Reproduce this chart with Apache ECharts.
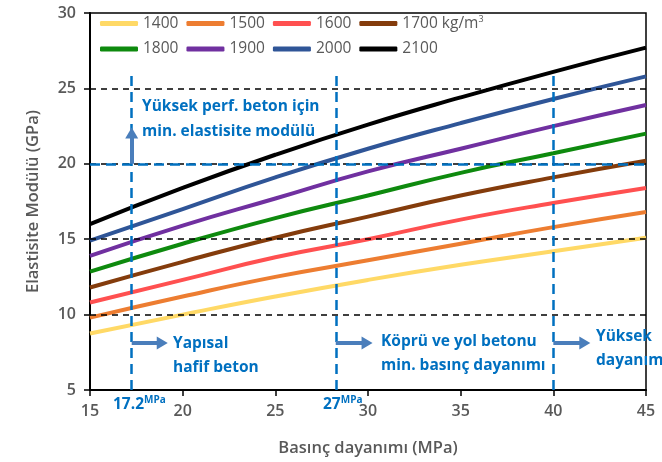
<!DOCTYPE html>
<html><head><meta charset="utf-8">
<script src="https://cdn.jsdelivr.net/npm/echarts@6/dist/echarts.min.js"></script>
<style>html,body{margin:0;padding:0;background:#fff}#c{width:662px;height:462px}</style>
</head><body><div id="c"></div>
<script>
// ---- data ----
const strengths = [15, 20, 25, 30, 35, 40, 45];
const densities = ['1400', '1500', '1600', '1700', '1800', '1900', '2000', '2100'];
const e1400 = [8.75, 10.0, 11.2, 12.3, 13.3, 14.2, 15.1];
const e1500 = [9.8, 11.2, 12.5, 13.6, 14.7, 15.8, 16.8];
const e1600 = [10.8, 12.3, 13.8, 15.0, 16.3, 17.4, 18.4];
const e1700 = [11.8, 13.5, 15.1, 16.5, 17.9, 19.1, 20.2];
const e1800 = [12.85, 14.7, 16.4, 17.9, 19.4, 20.7, 22.0];
const e1900 = [13.9, 15.9, 17.7, 19.5, 21.0, 22.5, 23.9];
const e2000 = [14.9, 17.0, 19.1, 21.0, 22.7, 24.3, 25.8];
const e2100 = [16.0, 18.4, 20.6, 22.6, 24.4, 26.1, 27.7];
const seriesValues = [e1400, e1500, e1600, e1700, e1800, e1900, e2000, e2100];
const xTicks = [15, 20, 25, 30, 35, 40, 45];
const yTicks = [5, 10, 15, 20, 25, 30];
// reference thresholds
const strengthLimits = [17.25, 28.26, 40];   // drawn positions of the vertical markers
const modulusLimit = 20;

const colors = ['#FFD966', '#ED7D31', '#FF5050', '#843C0C', '#0E8A0E', '#7030A0', '#2F5597', '#000000'];
const blue = '#0070C0';
const arrowBlue = '#4A7EBB';
const grey = '#595959';
const FONT = 'Open Sans';

const chart = echarts.init(document.getElementById('c'), null, {renderer: 'canvas'});

const xMin = xTicks[0], xMax = xTicks[xTicks.length - 1];
const yMin = yTicks[0], yMax = yTicks[yTicks.length - 1];

const lineSeries = densities.map((d, i) => ({
  name: d, type: 'line', smooth: true, showSymbol: false, symbol: 'none',
  lineStyle: {width: 4, color: colors[i]}, itemStyle: {color: colors[i]},
  data: strengths.map((s, j) => [s, seriesValues[i][j]]), z: 3
}));

// black dashed gridlines at inner ticks (not over the frame)
const grid = {
  type: 'line', data: [], silent: true, z: 2,
  markLine: {
    silent: true, symbol: ['none', 'none'], label: {show: false}, animation: false,
    lineStyle: {color: '#000', width: 1.5, type: [6, 5]},
    data: yTicks.slice(1, -1).map(v => [{coord: [xMin, v]}, {coord: [xMax, v]}])
  }
};

const dashStyle = {color: blue, width: 2.5, type: [10, 6]};
const arrowY = 8.12;
const helper = {
  type: 'line', data: [], silent: true, z: 4,
  markLine: {
    silent: true, symbol: ['none', 'none'], label: {show: false},
    lineStyle: dashStyle, animation: false,
    data: [
      [{coord: [xMin, modulusLimit]}, {coord: [xMax, modulusLimit]}],
      [{coord: [strengthLimits[0], yMin]}, {coord: [strengthLimits[0], 25.9]}],
      [{coord: [strengthLimits[1], yMin]}, {coord: [strengthLimits[1], 25.9]}],
      [{coord: [strengthLimits[2], yMin]}, {coord: [strengthLimits[2], 25.9]}]
    ]
  }
};
const arrows = {
  type: 'line', data: [], silent: true, z: 5,
  markLine: {
    silent: true, symbol: ['none', 'triangle'], symbolSize: [13, 11], label: {show: false},
    lineStyle: {color: arrowBlue, width: 4, type: 'solid'}, itemStyle: {color: arrowBlue}, animation: false,
    data: [
      [{coord: [strengthLimits[0], modulusLimit]}, {coord: [strengthLimits[0], 22.04]}],
      [{coord: [strengthLimits[0], arrowY]}, {coord: [18.9, arrowY]}],
      [{coord: [strengthLimits[1], arrowY]}, {coord: [29.95, arrowY]}],
      [{coord: [strengthLimits[2], arrowY]}, {coord: [41.7, arrowY]}]
    ]
  }
};

const legendText = {
  fontFamily: FONT, fontSize: 15.5, color: grey,
  rich: {a: {fontFamily: FONT, fontSize: 15.5, color: grey}, s: {fontFamily: FONT, fontSize: 9, color: grey, verticalAlign: 'top', padding: [0, 0, 8, 0]}}
};
const legendBase = {
  orient: 'horizontal', left: 100, padding: 0, itemWidth: 38, itemHeight: 5, itemGap: 8, icon: 'roundRect',
  textStyle: legendText,
  formatter: n => n === '1700' ? '{a|1700 kg/m}{s|3}' : n
};

const annot = (x, y, text, lh) => ({
  type: 'text', left: x, top: y, z: 100,
  style: {text, fill: blue, font: 'bold 15.5px "' + FONT + '"', lineHeight: lh}
});
const supLabel = (x, y, main) => ({
  type: 'text', left: x, top: y, z: 100,
  style: {
    text: '{a|' + main + '}{s|MPa}',
    rich: {a: {fill: blue, fontFamily: FONT, fontWeight: 'bold', fontSize: 15.5, color: blue},
           s: {fill: blue, fontFamily: FONT, fontWeight: 'bold', fontSize: 10, color: blue, verticalAlign: 'top', padding: [0, 0, 9, 0]}}
  }
});

chart.setOption({
  animation: false,
  backgroundColor: '#fff',
  grid: {left: 90, right: 16, top: 13, bottom: 72, show: true, borderColor: '#000', borderWidth: 1.5, backgroundColor: 'transparent'},
  legend: [
    Object.assign({}, legendBase, {top: 15, data: densities.slice(0, 4)}),
    Object.assign({}, legendBase, {top: 41, data: densities.slice(4)})
  ],
  xAxis: {
    type: 'value', min: xMin, max: xMax, interval: 5,
    name: 'Basınç dayanımı (MPa)', nameLocation: 'middle', nameGap: 50,
    nameTextStyle: {fontFamily: FONT, fontSize: 16.5, fontWeight: 600, color: grey},
    axisLine: {lineStyle: {color: '#000', width: 2}},
    axisTick: {show: true, length: 6, lineStyle: {color: '#000', width: 1.5}},
    axisLabel: {fontFamily: FONT, fontSize: 16, fontWeight: 600, color: grey, margin: 13},
    splitLine: {show: false}
  },
  yAxis: {
    type: 'value', min: yMin, max: yMax, interval: 5,
    name: 'Elastisite Modülü (GPa)', nameLocation: 'middle', nameGap: 48,
    nameTextStyle: {fontFamily: FONT, fontSize: 16.5, fontWeight: 600, color: grey},
    axisLine: {lineStyle: {color: '#000', width: 2}},
    axisTick: {show: true, length: 6, lineStyle: {color: '#000', width: 1.5}},
    axisLabel: {fontFamily: FONT, fontSize: 16, fontWeight: 600, color: grey, margin: 14},
    splitLine: {show: false}
  },
  series: [grid].concat(lineSeries, [helper, arrows]),
  graphic: [
    annot(142, 94, 'Yüksek perf. beton için\nmin. elastisite modülü', 25),
    annot(173, 331, 'Yapısal\nhafif beton', 24.5),
    annot(381, 330, 'Köprü ve yol betonu\nmin. basınç dayanımı', 23.5),
    annot(596, 325, 'Yüksek\ndayanımı', 23.5),
    supLabel(113, 395, '17.2'),
    supLabel(323, 395, '27')
  ]
});
</script></body></html>
